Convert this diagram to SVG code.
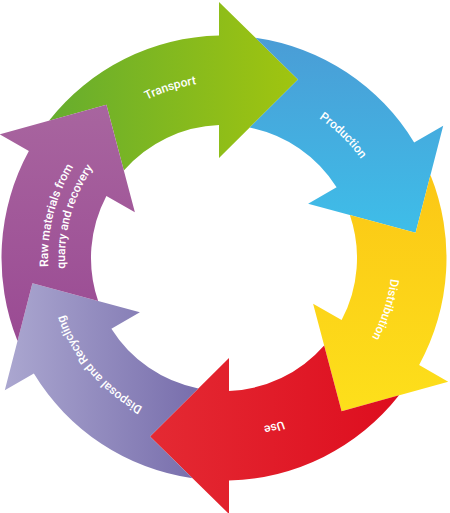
<svg xmlns="http://www.w3.org/2000/svg" xmlns:xlink="http://www.w3.org/1999/xlink" width="450" height="513" viewBox="0 0 450 513">
<style>
.lbl { font-family: Roboto, "Liberation Sans", "DejaVu Sans", sans-serif; font-size: 12px; font-weight: 500; fill: #ffffff; }
</style>
<defs>
<path id="arrow" d="M48.95,120.65 A222.5,222.5 0 0 1 219,35.56 L219,2 L298,79.5 L219,158 L219,125.09 A133,133 0 0 0 123.84,170.5 L106.42,104.66 Z"/>
<path id="r176" d="M58.61,197.81 A176,176 0 0 1 389.39,197.81"/>
<path id="r169" d="M65.19,200.2 A169,169 0 0 1 382.81,200.2"/>
<path id="r168" d="M66.13,200.54 A168,168 0 0 1 381.87,200.54"/>
<path id="r173" d="M61.43,198.83 A173,173 0 0 1 386.57,198.83"/>
<path id="r170" d="M64.25,199.86 A170,170 0 0 1 383.75,199.86"/>
<path id="r159" d="M74.59,203.62 A159,159 0 0 1 373.41,203.62"/>
<linearGradient id="gGreen" gradientUnits="userSpaceOnUse" x1="50" y1="0" x2="300" y2="0">
<stop offset="0" stop-color="#66ad2e"/><stop offset="1" stop-color="#a1c50f"/>
</linearGradient>
<linearGradient id="gBlue" gradientUnits="userSpaceOnUse" x1="0" y1="40" x2="0" y2="235" gradientTransform="rotate(-60 224 258)">
<stop offset="0" stop-color="#4a9dd6"/><stop offset="1" stop-color="#3ebee9"/>
</linearGradient>
<linearGradient id="gYellow" gradientUnits="userSpaceOnUse" x1="0" y1="175" x2="0" y2="415" gradientTransform="rotate(-120 224 258)">
<stop offset="0" stop-color="#fbc716"/><stop offset="1" stop-color="#fde01b"/>
</linearGradient>
<linearGradient id="gRed" gradientUnits="userSpaceOnUse" x1="150" y1="0" x2="430" y2="0" gradientTransform="rotate(-180 224 258)">
<stop offset="0" stop-color="#e42a33"/><stop offset="1" stop-color="#dd0a1c"/>
</linearGradient>
<linearGradient id="gLav" gradientUnits="userSpaceOnUse" x1="5" y1="0" x2="235" y2="0" gradientTransform="rotate(-240 224 258)">
<stop offset="0" stop-color="#aba7d0"/><stop offset="1" stop-color="#6e63a5"/>
</linearGradient>
<linearGradient id="gPurple" gradientUnits="userSpaceOnUse" x1="0" y1="105" x2="0" y2="345" gradientTransform="rotate(-300 224 258)">
<stop offset="0" stop-color="#a8659f"/><stop offset="1" stop-color="#9a4a93"/>
</linearGradient>
</defs>
<g id="transport">
<use href="#arrow" xlink:href="#arrow" fill="url(#gGreen)"/>
<text class="lbl" transform="rotate(-17.5 224 258)"><textPath href="#r176" xlink:href="#r176" startOffset="50%" text-anchor="middle">Transport</textPath></text>
</g>
<g id="production">
<use href="#arrow" xlink:href="#arrow" fill="url(#gBlue)" transform="rotate(60 224 258)"/>
<text class="lbl" transform="rotate(44.2 224 258)"><textPath href="#r169" xlink:href="#r169" startOffset="50%" text-anchor="middle">Production</textPath></text>
</g>
<g id="distribution">
<use href="#arrow" xlink:href="#arrow" fill="url(#gYellow)" transform="rotate(120 224 258)"/>
<text class="lbl" transform="rotate(107.7 224 258)"><textPath href="#r168" xlink:href="#r168" startOffset="50%" text-anchor="middle">Distribution</textPath></text>
</g>
<g id="use">
<use href="#arrow" xlink:href="#arrow" fill="url(#gRed)" transform="rotate(180 224 258)"/>
<text class="lbl" transform="rotate(163.4 224 258)"><textPath href="#r173" xlink:href="#r173" startOffset="50%" text-anchor="middle">Use</textPath></text>
</g>
<g id="disposal">
<use href="#arrow" xlink:href="#arrow" fill="url(#gLav)" transform="rotate(240 224 258)"/>
<text class="lbl" transform="rotate(229.5 224 258)"><textPath href="#r170" xlink:href="#r170" startOffset="50%" text-anchor="middle">Disposal and Recycling</textPath></text>
</g>
<g id="raw-materials">
<use href="#arrow" xlink:href="#arrow" fill="url(#gPurple)" transform="rotate(300 224 258)"/>
<text class="lbl" transform="rotate(-75.8 224 258)"><textPath href="#r176" xlink:href="#r176" startOffset="50%" text-anchor="middle">Raw materials from</textPath></text>
<text class="lbl" transform="rotate(-74.6 224 258)"><textPath href="#r159" xlink:href="#r159" startOffset="50%" text-anchor="middle">quarry and recovery</textPath></text>
</g>
<g id="connectors"/>
</svg>
